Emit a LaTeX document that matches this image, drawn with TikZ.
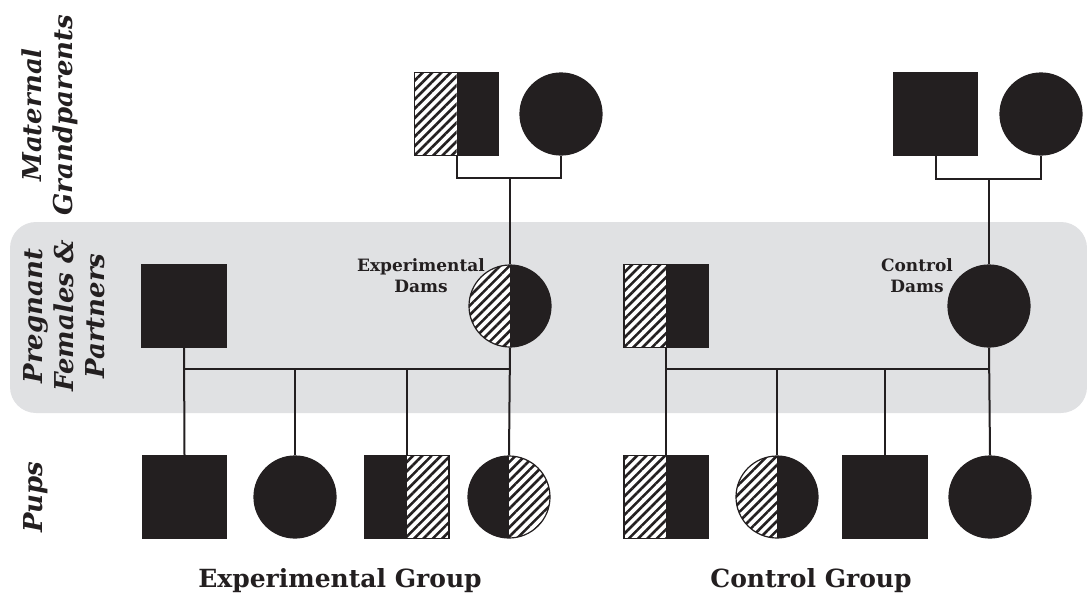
\documentclass[tikz,border=0pt]{standalone}
\usepackage{fontspec}
\setmainfont{DejaVu Serif}
\usetikzlibrary{patterns.meta}
\definecolor{ink}{HTML}{231F20}
\definecolor{band}{HTML}{E0E1E3}
\tikzset{
  male/.style={rectangle, minimum width=84pt, minimum height=83pt, inner sep=0pt, draw=ink, line width=1.2pt, fill=ink},
  female/.style={circle, minimum size=82pt, inner sep=0pt, draw=ink, line width=1.2pt, fill=ink},
  hatchleft/.style={fill=white, path picture={
    \fill[pattern={Lines[angle=45,distance=6.6pt,line width=2.6pt]}, pattern color=ink]
      (path picture bounding box.south west) rectangle (path picture bounding box.north);
    \fill[ink] (path picture bounding box.south) rectangle (path picture bounding box.north east);}},
  hatchright/.style={fill=white, path picture={
    \fill[ink] (path picture bounding box.south west) rectangle (path picture bounding box.north);
    \fill[pattern={Lines[angle=45,distance=6.6pt,line width=2.6pt]}, pattern color=ink]
      (path picture bounding box.south) rectangle (path picture bounding box.north east);}},
  link/.style={draw=ink, line width=2pt},
  rowlab/.style={text=ink, font=\bfseries\itshape\fontsize{26}{31}\selectfont, align=center, rotate=90, inner sep=0pt},
  damlab/.style={text=ink, font=\bfseries\fontsize{17}{21}\selectfont, align=center, inner sep=0pt},
  grplab/.style={text=ink, font=\bfseries\fontsize{25}{28}\selectfont, inner sep=0pt}
}
\begin{document}
\begin{tikzpicture}[x=1pt,y=-1pt]
\useasboundingbox (0,0) rectangle (1087,598);
% band
\fill[band, rounded corners=26pt] (10,222) rectangle (1087,413);

% row labels
\node[rowlab] (lmg) at (50,115) {Maternal\\Grandparents};
\node[rowlab] (lpf) at (64,316) {Pregnant\\Females \&\\Partners};
\node[rowlab] (lpu) at (36,497) {Pups};

% experimental group
\node[male, hatchleft] (egf) at (456.5,114) {};
\node[female] (egm) at (561,114) {};
\coordinate (eGP) at (510,178);
\node[female, hatchleft] (edam) at (510,306) {};
\node[male] (epart) at (184,306) {};
\node[damlab] (edaml) at (421,276) {Experimental\\Dams};
\coordinate (eSib) at (510,369);
\node[male] (ep1) at (184.5,497) {};
\node[female] (ep2) at (295,497) {};
\node[male, hatchright] (ep3) at (407,497) {};
\node[female, hatchright] (ep4) at (509,497) {};

% control group
\node[male] (cgf) at (935.5,114) {};
\node[female] (cgm) at (1041,114) {};
\coordinate (cGP) at (989,179);
\node[female] (cdam) at (989,306) {};
\node[male, hatchleft] (cpart) at (666,306) {};
\node[damlab] (cdaml) at (917,276) {Control\\Dams};
\coordinate (cSib) at (989,369);
\node[male, hatchleft] (cp1) at (666,497) {};
\node[female, hatchleft] (cp2) at (777,497) {};
\node[male] (cp3) at (885,497) {};
\node[female] (cp4) at (990,497) {};

% connectors experimental
\draw[link] (egf.south) |- (eGP) -| (egm.south);
\draw[link] (eGP) -- (edam.north);
\draw[link] (epart.south) -- (ep1.north);
\draw[link] (edam.south) -- (ep4.north);
\draw[link] (epart.south |- eSib) -- (eSib);
\draw[link] (ep2.north |- eSib) -- (ep2.north);
\draw[link] (ep3.north |- eSib) -- (ep3.north);

% connectors control
\draw[link] (cgf.south) |- (cGP) -| (cgm.south);
\draw[link] (cGP) -- (cdam.north);
\draw[link] (cpart.south) -- (cp1.north);
\draw[link] (cdam.south) -- (cp4.north);
\draw[link] (cpart.south |- cSib) -- (cSib);
\draw[link] (cp2.north |- cSib) -- (cp2.north);
\draw[link] (cp3.north |- cSib) -- (cp3.north);

% group labels
\node[grplab] (gexp) at (340,581) {Experimental Group};
\node[grplab] (gctl) at (811,581) {Control Group};
\end{tikzpicture}
\end{document}
